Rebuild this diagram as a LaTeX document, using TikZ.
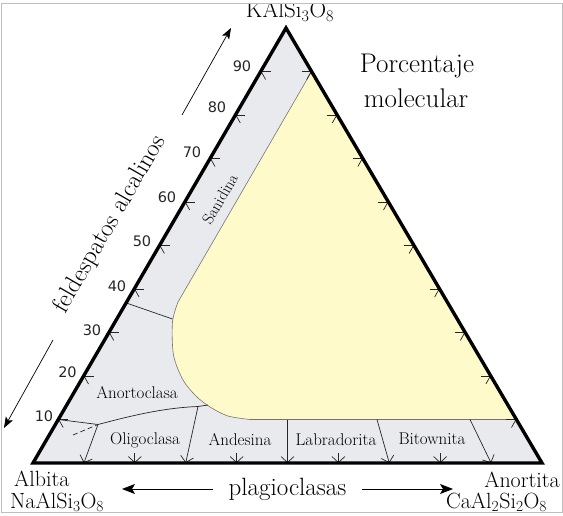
\documentclass[tikz,border=0pt]{standalone}
\usepackage{fontspec}
\newfontfamily\numfont{DejaVu Sans}
\usetikzlibrary{arrows.meta,calc}
\definecolor{grayfill}{RGB}{232,234,238}
\definecolor{yellowfill}{RGB}{255,250,202}
\definecolor{framegray}{RGB}{190,190,190}
\tikzset{
  edgeline/.style={line width=3.4pt, line join=miter},
  innerline/.style={line width=0.7pt, black!85},
  sidetick/.style={line width=0.7pt, black!85, -{Straight Barb[length=4.5pt,width=16pt]}},
  bottick/.style={line width=0.7pt, black!85, -{Straight Barb[length=6pt,width=13pt]}},
  bigarrow/.style={line width=0.8pt, -{Stealth[length=13pt,width=10pt,inset=3pt]}},
  smallarrow/.style={line width=0.7pt, -{Stealth[length=11pt,width=8pt,inset=2.5pt]}},
  numlab/.style={font=\numfont\fontsize{14.5}{16}\selectfont, text=black!85, inner sep=0pt},
  minlab/.style={font=\fontsize{17}{19}\selectfont, inner sep=0pt},
  biglab/.style={font=\fontsize{22}{24}\selectfont, inner sep=0pt},
  titlelab/.style={font=\fontsize{27}{30}\selectfont, inner sep=0pt}
}
\begin{document}
\begin{tikzpicture}[x=1pt,y=-1pt]
\useasboundingbox (0,0) rectangle (563,516);
\coordinate (A) at (33,463);
\coordinate (B) at (542,463);
\coordinate (C) at (286,28);
\foreach \k in {1,...,9}{
  \coordinate (L\k) at ($(A)!\k/10!(C)$);
  \coordinate (R\k) at ($(B)!\k/10!(C)$);
  \coordinate (D\k) at ($(A)!\k/10!(B)$);
}
\coordinate (T1) at (98,424.5);
\coordinate (T3) at (198,406.5);
\coordinate (T5) at (287.5,419.5);
\coordinate (T7) at (377,419.5);
\coordinate (T9) at (470,419.5);
\coordinate (Y3) at (208,405);
\coordinate (dsh) at (73,435);
\coordinate (S1) at ($(A)!0.368!(C)$);
\coordinate (S2) at (172.5,319);
\coordinate (fa1) at (182,115);
\coordinate (fa2) at (231,28);
\coordinate (fl1) at (53,340);
\coordinate (fl2) at (4,428);
\coordinate (pl1) at (213,489);
\coordinate (pl2) at (122,489);
\coordinate (pr1) at (362,489);
\coordinate (pr2) at (453,489);
\begin{scope}
\clip (1.5,3.5) rectangle (562.5,512);
% fills
\fill[grayfill] (A) -- (B) -- (C) -- cycle;
\filldraw[fill=yellowfill, draw=black!55, line width=0.6pt]
  (R9) -- plot[smooth] coordinates {(178,302) (172.5,322) (173.5,355) (183,380) (196,396) (210,407) (228,416) (250,419.5)} -- (R1) -- cycle;
% internal boundaries
\draw[innerline] (L1) -- (T1) .. controls (125,417.5) and (160,408) .. (T3) -- (Y3);
\draw[innerline, dash pattern=on 5pt off 3pt] (dsh) -- (T1);
\draw[innerline] (S1) -- (S2);
% ticks
\foreach \k in {1,...,9}{
  \draw[sidetick] ($(L\k)+(10,0)$) -- (L\k);
  \draw[sidetick] ($(R\k)+(-10,0)$) -- (R\k);
}
\foreach \k in {2,4,6,8}{
  \draw[bottick] ($(D\k)+(0,-10)$) -- (D\k);
}
\foreach \k in {1,3,5,7,9}{
  \draw[bottick] (T\k) -- (D\k);
}
% outline
\draw[edgeline] (A) -- (B) -- (C) -- cycle;
% arrows
\draw[smallarrow] (fa1) -- (fa2);
\draw[smallarrow] (fl1) -- (fl2);
\draw[bigarrow] (pl1) -- (pl2);
\draw[bigarrow] (pr1) -- (pr2);
% numbers
\node[numlab] (n90) at (242,66) {90};
\node[numlab] (n80) at (217,107.5) {80};
\node[numlab] (n70) at (192,152.5) {70};
\node[numlab] (n60) at (167,197.5) {60};
\node[numlab] (n50) at (142,241) {50};
\node[numlab] (n40) at (117,286) {40};
\node[numlab] (n30) at (92,330) {30};
\node[numlab] (n20) at (67.5,372.5) {20};
\node[numlab] (n10) at (44,416) {10};
% labels
\node[biglab, font=\fontsize{23}{25}\selectfont, anchor=base] (kal) at (290,18) {KAlSi\textsubscript{3}O\textsubscript{8}};
\node[titlelab, anchor=base] (porc) at (417,73) {Porcentaje};
\node[titlelab, anchor=base] (molec) at (416,108) {molecular};
\node[biglab, font=\fontsize{25}{27}\selectfont, anchor=base, rotate=60] (feld) at (115.5,227.5) {feldespatos alcalinos};
\node[minlab, font=\fontsize{16}{18}\selectfont, rotate=60] (sani) at (220,199) {Sanidina};
\node[minlab] (anor) at (137,393) {Anortoclasa};
\node[minlab] (olig) at (145,440) {Oligoclasa};
\node[minlab] (ande) at (240,440) {Andesina};
\node[minlab] (labr) at (336,439.5) {Labradorita};
\node[minlab] (bito) at (432,439) {Bitownita};
\node[biglab, anchor=base west] (albita) at (14,486) {Albita};
\node[biglab, anchor=base west] (naal) at (10,508.5) {NaAlSi\textsubscript{3}O\textsubscript{8}};
\node[biglab, anchor=base east] (anort) at (560,487) {Anortita};
\node[biglab, anchor=base west] (caal) at (446,508.5) {CaAl\textsubscript{2}Si\textsubscript{2}O\textsubscript{8}};
\node[biglab, font=\fontsize{25}{27}\selectfont, anchor=base] (plag) at (287.5,495) {plagioclasas};
\end{scope}
\draw[framegray, line width=1pt] (1.5,3.5) rectangle (562.5,512);
\end{tikzpicture}
\end{document}
